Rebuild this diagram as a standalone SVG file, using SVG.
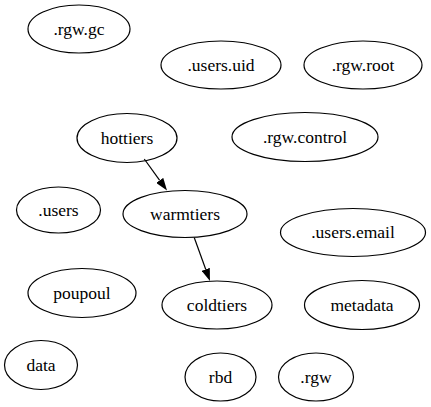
<svg xmlns="http://www.w3.org/2000/svg" width="431" height="407" viewBox="0 0 431 407">
<style>
.n ellipse{fill:none;stroke:#000;stroke-width:1.2}
.n text{font-family:'Times New Roman','Liberation Serif','DejaVu Serif','Noto Serif',serif;font-size:17.5px;text-anchor:middle;fill:#000}
.e line{stroke:#000;stroke-width:1.2}
</style>
<defs>
<marker id="ah" viewBox="0 0 12.5 8.75" refX="0" refY="4.375" markerWidth="12.5" markerHeight="8.75" markerUnits="userSpaceOnUse" orient="auto">
<path d="M0,0 L12.5,4.375 L0,8.75 z" fill="#000"/>
</marker>
</defs>
<rect width="431" height="407" fill="#fff"/>
<g id="edges" class="e">
<line x1="144.3" y1="159" x2="159.7" y2="180.4" marker-end="url(#ah)"/>
<line x1="194.3" y1="237.7" x2="205.7" y2="269.3" marker-end="url(#ah)"/>
</g>
<g id="rgw_gc" class="n"><ellipse cx="79" cy="29" rx="51" ry="24"/><text x="79" y="35">.rgw.gc</text></g>
<g id="users_uid" class="n"><ellipse cx="221" cy="65" rx="60" ry="24"/><text x="221" y="71">.users.uid</text></g>
<g id="rgw_root" class="n"><ellipse cx="363" cy="65" rx="59" ry="24"/><text x="363" y="71">.rgw.root</text></g>
<g id="hottiers" class="n"><ellipse cx="127" cy="138" rx="50" ry="24.5"/><text x="127" y="143.5">hottiers</text></g>
<g id="rgw_control" class="n"><ellipse cx="305" cy="137" rx="73" ry="24.5"/><text x="305" y="143">.rgw.control</text></g>
<g id="users" class="n"><ellipse cx="58.5" cy="210" rx="42" ry="23"/><text x="58.5" y="215.5">.users</text></g>
<g id="warmtiers" class="n"><ellipse cx="185" cy="214" rx="62" ry="23.5"/><text x="185" y="219.5">warmtiers</text></g>
<g id="users_email" class="n"><ellipse cx="353" cy="232.5" rx="72.5" ry="24"/><text x="353" y="238">.users.email</text></g>
<g id="poupoul" class="n"><ellipse cx="82" cy="293" rx="54" ry="24.5"/><text x="82" y="298.5">poupoul</text></g>
<g id="coldtiers" class="n"><ellipse cx="217" cy="305" rx="55" ry="24"/><text x="217" y="310.5">coldtiers</text></g>
<g id="metadata" class="n"><ellipse cx="362" cy="305" rx="57.5" ry="24.5"/><text x="362" y="310.5">metadata</text></g>
<g id="data" class="n"><ellipse cx="41" cy="365" rx="36.5" ry="24.5"/><text x="41" y="370.5">data</text></g>
<g id="rbd" class="n"><ellipse cx="220.5" cy="377" rx="35.5" ry="24"/><text x="220.5" y="382.5">rbd</text></g>
<g id="rgw" class="n"><ellipse cx="316" cy="377" rx="37.5" ry="24"/><text x="316" y="382.5">.rgw</text></g>
</svg>
